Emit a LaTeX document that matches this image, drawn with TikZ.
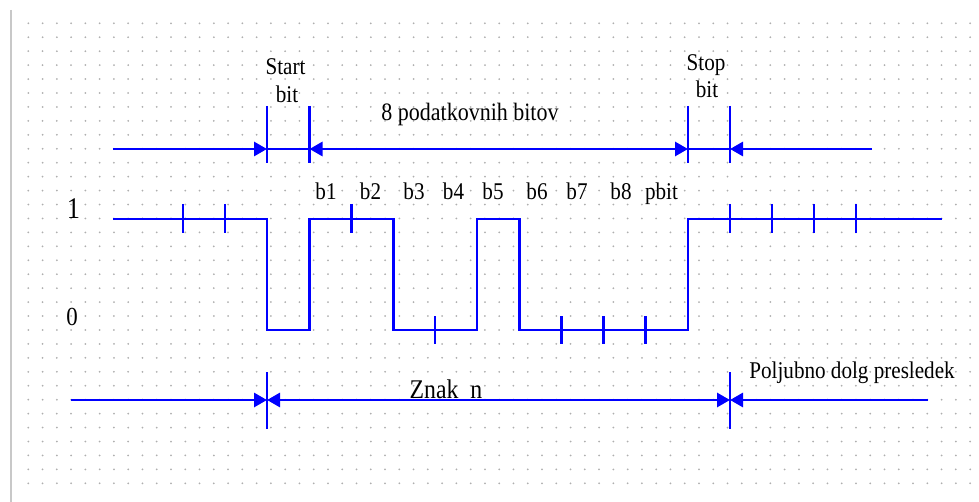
\documentclass[tikz,border=0pt]{standalone}
\usepackage{fontspec}
\setmainfont{Liberation Serif}[FakeStretch=0.88]
\usetikzlibrary{arrows.meta}
\definecolor{sigblue}{RGB}{0,0,255}
\definecolor{dotgray}{RGB}{175,175,175}
\definecolor{framegray}{RGB}{200,200,200}

\begin{document}
\begin{tikzpicture}[x=0.5pt, y=-0.5pt,
  font=\fontsize{12}{14}\selectfont,
  sig/.style={sigblue, line width=1.45pt},
  dimarrow/.style={sig, -{Triangle[length=6.5pt,width=7pt]}},
  dimboth/.style={sig, {Triangle[length=6.5pt,width=7pt]}-{Triangle[length=6.5pt,width=7pt]}},
  lbl/.style={anchor=base, inner sep=0pt}]

  \useasboundingbox (0,0) rectangle (979,502);

  % Grid
  \foreach \i in {0,...,66}
    \foreach \j in {0,...,33}
      \fill[dotgray] (28.3+\i*14.27, 23.3+\j*13.94) circle (0.5pt);
  \draw[framegray, line width=0.6pt] (11,10) -- (11,502);

  % Start / stop bit dimensions
  \coordinate (topW) at (113,149);
  \coordinate (startL) at (267,149);
  \coordinate (startR) at (309.5,149);
  \coordinate (stopL) at (688,149);
  \coordinate (stopR) at (730,149);
  \coordinate (topE) at (872,149);

  \foreach \x in {267,309.5,688,730}
    \draw[sig] (\x,106) -- (\x,163);

  \draw[dimarrow] (topW) -- (startL);
  \draw[sig] (startL) -- (startR);
  \draw[dimboth] (startR) -- (stopL);
  \draw[sig] (stopL) -- (stopR);
  \draw[dimarrow] (topE) -- (stopR);

  \node[lbl] (startlbl) at (285.5,75) {Start};
  \node[lbl] (startbit) at (287,103) {bit};
  \node[lbl, font=\fontsize{12.5}{14}\selectfont] (datalbl) at (470,121) {8 podatkovnih bitov};
  \node[lbl] (stoplbl) at (706,71) {Stop};
  \node[lbl] (stopbit) at (707,98) {bit};

  % Signal
  \node[lbl, font=\fontsize{15}{17}\selectfont] (one) at (73.5,219) {1};
  \node[lbl, font=\fontsize{13}{15}\selectfont] (zero) at (72,325) {0};

  \draw[sig] (113,219) -- (267,219) -- (267,330) -- (309.5,330) -- (309.5,219)
    -- (393.5,219) -- (393.5,330) -- (477,330) -- (477,219) -- (519.5,219)
    -- (519.5,330) -- (688,330) -- (688,219) -- (942,219);

  \foreach \x in {183,225,351.5,730,772,814,856}
    \draw[sig] (\x,204) -- (\x,233);
  \foreach \x in {435,561.5,603.5,645.5}
    \draw[sig] (\x,316) -- (\x,344);

  \foreach \name/\x in {b1/326,b2/370.5,b3/414,b4/453.5,b5/493,b6/537,b7/577,b8/621,pbit/661.5}
    \node[lbl] (\name) at (\x,200) {\name};

  % Character frame
  \coordinate (botW) at (71,400);
  \coordinate (charL) at (267,400);
  \coordinate (charR) at (730,400);
  \coordinate (botE) at (928,400);

  \foreach \x in {267,730}
    \draw[sig] (\x,372) -- (\x,429);

  \draw[dimarrow] (botW) -- (charL);
  \draw[dimboth] (charL) -- (charR);
  \draw[dimarrow] (botE) -- (charR);

  \node[lbl, font=\fontsize{13.5}{15}\selectfont] (znak) at (446,398) {Znak\ \ n};
  \node[lbl, anchor=base west] (gap) at (749,378) {Poljubno dolg presledek};
\end{tikzpicture}
\end{document}
